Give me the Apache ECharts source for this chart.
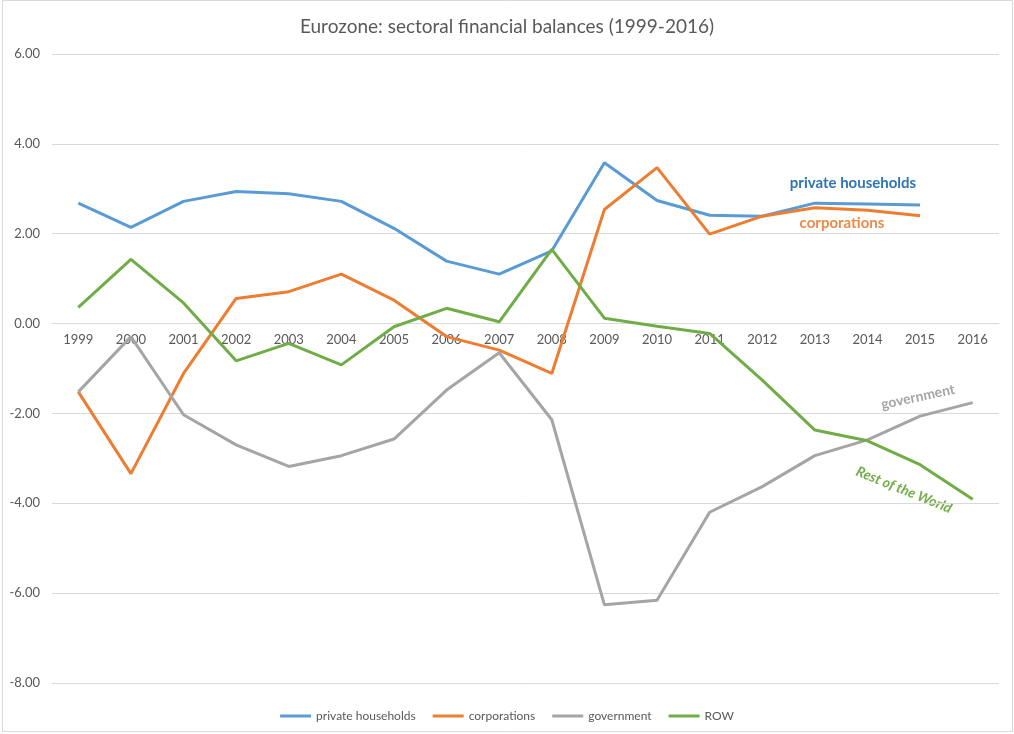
<!DOCTYPE html>
<html>
<head>
<meta charset="utf-8">
<script src="https://cdn.jsdelivr.net/npm/echarts@6/dist/echarts.min.js"></script>
<style>
html,body{margin:0;padding:0;background:#fff;}
#chart{width:1014px;height:734px;}
</style>
</head>
<body>
<div id="chart"></div>
<script>
var years = ['1999','2000','2001','2002','2003','2004','2005','2006','2007','2008','2009','2010','2011','2012','2013','2014','2015','2016'];
var privateHouseholds = [2.68, 2.14, 2.72, 2.94, 2.89, 2.72, 2.12, 1.39, 1.10, 1.62, 3.58, 2.74, 2.41, 2.39, 2.68, 2.66, 2.64, null];
var corporations = [-1.52, -3.34, -1.11, 0.56, 0.71, 1.10, 0.52, -0.29, -0.59, -1.11, 2.54, 3.47, 1.99, 2.39, 2.58, 2.52, 2.40, null];
var government = [-1.52, -0.29, -2.03, -2.70, -3.18, -2.94, -2.57, -1.48, -0.65, -2.14, -6.26, -6.16, -4.20, -3.63, -2.94, -2.59, -2.06, -1.76];
var row = [0.36, 1.43, 0.46, -0.83, -0.44, -0.92, -0.07, 0.34, 0.04, 1.65, 0.12, -0.06, -0.22, -1.26, -2.37, -2.61, -3.14, -3.91];
var seriesNames = ['private households', 'corporations', 'government', 'ROW'];
var colors = ['#5B9BD5', '#ED7D31', '#A5A5A5', '#70AD47'];

var chart = echarts.init(document.getElementById('chart'));
var font = 'Lato, "Open Sans", sans-serif';
function mk(name, data, color) {
  return {
    name: name, type: 'line', data: data, symbol: 'none', smooth: false,
    lineStyle: {width: 3, color: color}, itemStyle: {color: color},
    connectNulls: false, z: 3
  };
}
var gridTop = 54, gridBottom = 51, chartH = 734;
var gridH = chartH - gridTop - gridBottom;
var zeroOffset = -(gridH * 8 / 14);
chart.setOption({
  animation: false,
  backgroundColor: '#fff',
  title: {
    text: 'Eurozone: sectoral financial balances (1999-2016)',
    left: 'center', top: 12,
    textStyle: {fontFamily: font, fontSize: 19, fontWeight: 'normal', color: '#595959'}
  },
  grid: {left: 52, right: 15, top: gridTop, bottom: gridBottom, containLabel: false},
  legend: {
    data: seriesNames,
    top: 705, left: 'center',
    icon: 'rect', itemWidth: 31, itemHeight: 3, itemGap: 17,
    textStyle: {fontFamily: font, fontSize: 12, color: '#595959'}
  },
  xAxis: {
    type: 'category', data: years, boundaryGap: true, position: 'bottom',
    offset: zeroOffset, z: 1,
    axisLine: {onZero: false, lineStyle: {color: '#d9d9d9', width: 1}},
    axisTick: {show: false},
    axisLabel: {fontFamily: font, fontSize: 13, color: '#595959', margin: 10}
  },
  yAxis: {
    type: 'value', min: -8, max: 6, interval: 2, z: 1,
    axisLine: {show: false}, axisTick: {show: false},
    splitLine: {lineStyle: {color: '#d9d9d9', width: 1}},
    axisLabel: {fontFamily: font, fontSize: 13, color: '#595959', margin: 12,
      formatter: function (v) { return v.toFixed(2); }}
  },
  series: [
    mk(seriesNames[0], privateHouseholds, colors[0]),
    mk(seriesNames[1], corporations, colors[1]),
    mk(seriesNames[2], government, colors[2]),
    mk(seriesNames[3], row, colors[3])
  ],
  graphic: [
    {type: 'rect', shape: {x: 2.5, y: 0.5, width: 1010, height: 731}, style: {fill: 'none', stroke: '#d9d9d9', lineWidth: 1}, silent: true},
    {type: 'text', x: 853, y: 183, style: {text: 'private households', fontFamily: font, fontSize: 15, fontWeight: 'bold', fill: '#2E75B6', textAlign: 'center', textVerticalAlign: 'middle'}},
    {type: 'text', x: 842, y: 223, style: {text: 'corporations', fontFamily: font, fontSize: 15, fontWeight: 'bold', fill: '#EE8A48', textAlign: 'center', textVerticalAlign: 'middle'}},
    {type: 'text', x: 918, y: 397, rotation: 12 * Math.PI / 180, style: {text: 'government', fontFamily: font, fontSize: 14, fontWeight: 'bold', fill: '#A5A5A5', textAlign: 'center', textVerticalAlign: 'middle'}},
    {type: 'text', x: 904, y: 490, rotation: -22 * Math.PI / 180, style: {text: 'Rest of the World', fontFamily: font, fontSize: 14, fontWeight: 'bold', fontStyle: 'italic', fill: '#70AD47', textAlign: 'center', textVerticalAlign: 'middle'}}
  ]
});
</script>
</body>
</html>
